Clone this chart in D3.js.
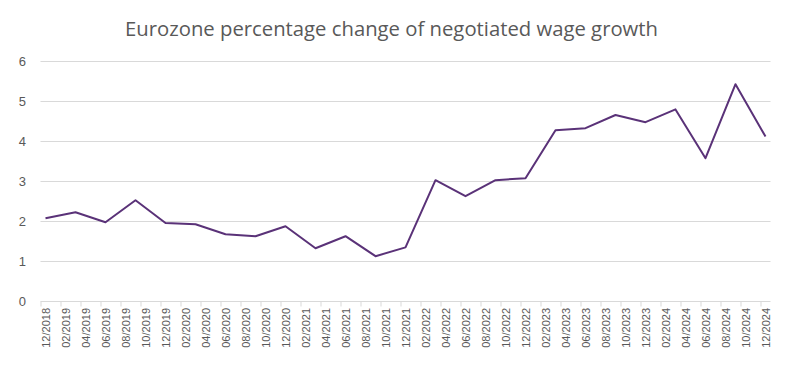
<!DOCTYPE html>
<html>
<head>
<meta charset="utf-8">
<script src="https://cdn.jsdelivr.net/npm/d3@7"></script>
<style>
  html, body { margin: 0; padding: 0; background: #fff; }
  svg { display: block; }
</style>
</head>
<body>
<svg id="chart" width="812" height="365"></svg>
<script>
// ---- Data ----
const title = "Eurozone percentage change of negotiated wage growth";
// quarterly observations (month/year)
const dates = [
  "12/2018","03/2019","06/2019","09/2019","12/2019",
  "03/2020","06/2020","09/2020","12/2020",
  "03/2021","06/2021","09/2021","12/2021",
  "03/2022","06/2022","09/2022","12/2022",
  "03/2023","06/2023","09/2023","12/2023",
  "03/2024","06/2024","09/2024","12/2024"
];
const values = [
  2.07, 2.22, 1.97, 2.52, 1.95,
  1.92, 1.67, 1.62, 1.87,
  1.32, 1.62, 1.12, 1.34,
  3.02, 2.62, 3.02, 3.07,
  4.27, 4.32, 4.65, 4.47,
  4.79, 3.57, 5.42, 4.11
];
const xTickLabels = [
  "12/2018","02/2019","04/2019","06/2019","08/2019","10/2019","12/2019",
  "02/2020","04/2020","06/2020","08/2020","10/2020","12/2020",
  "02/2021","04/2021","06/2021","08/2021","10/2021","12/2021",
  "02/2022","04/2022","06/2022","08/2022","10/2022","12/2022",
  "02/2023","04/2023","06/2023","08/2023","10/2023","12/2023",
  "02/2024","04/2024","06/2024","08/2024","10/2024","12/2024"
];
const yTicks = [0, 1, 2, 3, 4, 5, 6];

(function () {
// ---- Helpers ----
const startMonth = 2018 * 12 + 11; // Dec 2018
function monthIndex(s) {
  const [m, yr] = s.split("/").map(Number);
  return yr * 12 + (m - 1) - startMonth;
}
const nMonths = monthIndex("12/2024") + 1;

// ---- Layout ----
const svg = d3.select("#chart");
const mLeft = 40.5, mRight = 770.5, mTop = 61, mBottom = 301;

const x = d3.scaleLinear().domain([0, nMonths]).range([mLeft, mRight]);
const y = d3.scaleLinear().domain([0, 6]).range([mBottom, mTop]);

const grey = "#595959";

// gridlines
svg.append("g")
  .selectAll("line")
  .data(yTicks.filter(d => d > 0))
  .join("line")
  .attr("x1", mLeft).attr("x2", mRight)
  .attr("y1", d => Math.round(y(d)) + 0.5)
  .attr("y2", d => Math.round(y(d)) + 0.5)
  .attr("stroke", "#d9d9d9").attr("stroke-width", 1);

// y axis labels
const yAxis = d3.axisLeft(y).tickValues(yTicks).tickSize(0).tickPadding(0).tickFormat(d3.format("d"));
const gy = svg.append("g").attr("transform", `translate(26,0)`).call(yAxis);
gy.select(".domain").remove();
gy.selectAll("text")
  .attr("fill", grey)
  .style("font-family", "'Liberation Sans', Arial, sans-serif")
  .style("font-size", "13px");

// x axis
const tickPos = xTickLabels.map(monthIndex);
const xAxis = d3.axisBottom(x)
  .tickValues(tickPos)
  .tickSize(5)
  .tickFormat(() => "");
const gx = svg.append("g")
  .attr("transform", `translate(0,${Math.round(mBottom) + 0.5})`)
  .call(xAxis);
gx.select(".domain").attr("stroke", "#d9d9d9").attr("d", `M${mLeft},0H${mRight}`);
gx.selectAll(".tick line").attr("stroke", "#d9d9d9");

// x labels (rotated, centered on month band)
svg.append("g")
  .selectAll("text")
  .data(xTickLabels)
  .join("text")
  .attr("transform", d => `translate(${x(monthIndex(d) + 0.5) + 4},308) rotate(-90)`)
  .attr("text-anchor", "end")
  .attr("fill", grey)
  .style("font-family", "'Liberation Sans', Arial, sans-serif")
  .style("font-size", "11px")
  .text(d => d);

// line
const line = d3.line()
  .x((d, i) => x(monthIndex(dates[i]) + 0.5))
  .y(d => y(d));
svg.append("path")
  .datum(values)
  .attr("d", line)
  .attr("fill", "none")
  .attr("stroke", "#5a3278")
  .attr("stroke-width", 2)
  .attr("stroke-linejoin", "round");

// title
const t = svg.append("text")
  .attr("x", 391.5).attr("y", 36)
  .attr("text-anchor", "middle")
  .attr("fill", grey)
  .style("font-family", "'Open Sans', sans-serif")
  .style("font-size", "20px")
  .text(title);
const w = t.node().getComputedTextLength();
if (Math.abs(w - 533) > 2) {
  t.attr("textLength", 533).attr("lengthAdjust", "spacingAndGlyphs");
}
})();
</script>
</body>
</html>
